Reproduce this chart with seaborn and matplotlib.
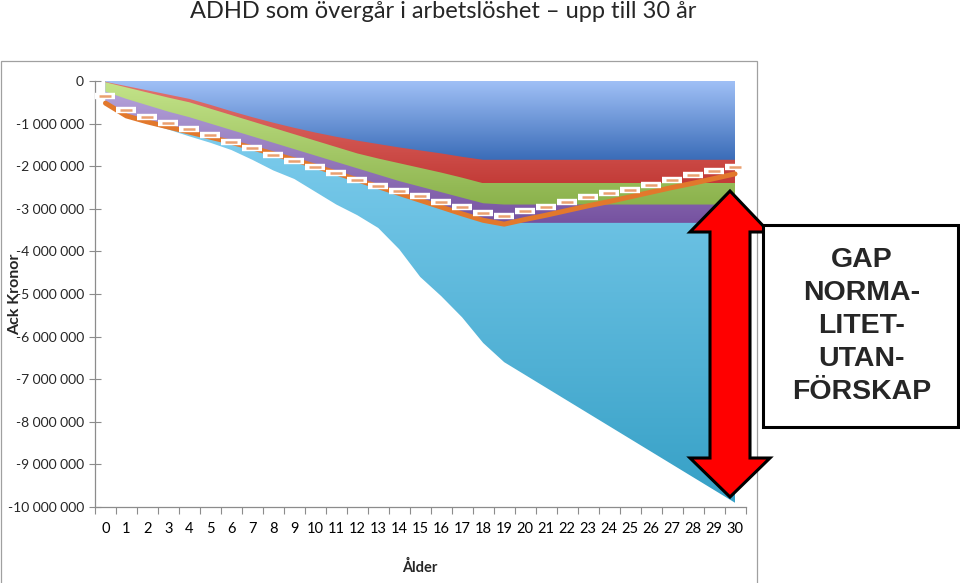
import numpy as np
import matplotlib
matplotlib.use("Agg")
import matplotlib.pyplot as plt
import matplotlib.colors as mcolors
from matplotlib.patches import Polygon, Rectangle
from matplotlib.ticker import FuncFormatter
import seaborn as sns

# ── data (Ack Kronor, miljoner) ───────────────────────────────────────────────
ages = list(range(0, 31))

blue = [-0.02, -0.12, -0.22, -0.32, -0.42, -0.56, -0.71, -0.85, -0.98, -1.10,
        -1.21, -1.31, -1.40, -1.48, -1.56, -1.63, -1.70, -1.78, -1.85, -1.85,
        -1.85, -1.85, -1.85, -1.85, -1.85, -1.85, -1.85, -1.85, -1.85, -1.85, -1.85]
red = [-0.03, -0.15, -0.27, -0.39, -0.50, -0.65, -0.80, -0.95, -1.10, -1.25,
       -1.40, -1.55, -1.70, -1.82, -1.93, -2.04, -2.15, -2.27, -2.40, -2.40,
       -2.40, -2.40, -2.40, -2.40, -2.40, -2.40, -2.40, -2.40, -2.40, -2.40, -2.40]
green = [-0.25, -0.42, -0.57, -0.72, -0.85, -1.00, -1.15, -1.30, -1.45, -1.60,
         -1.75, -1.90, -2.05, -2.20, -2.35, -2.48, -2.61, -2.74, -2.87, -2.90,
         -2.90, -2.90, -2.90, -2.90, -2.90, -2.90, -2.90, -2.90, -2.90, -2.90, -2.90]
purple = [-0.52, -0.82, -0.96, -1.08, -1.20, -1.32, -1.44, -1.57, -1.71, -1.85,
          -2.00, -2.16, -2.32, -2.48, -2.64, -2.80, -2.96, -3.12, -3.27, -3.33,
          -3.33, -3.33, -3.33, -3.33, -3.33, -3.33, -3.33, -3.33, -3.33, -3.33, -3.33]
lightblue = [-0.55, -0.85, -1.00, -1.14, -1.30, -1.45, -1.62, -1.85, -2.10, -2.30,
             -2.60, -2.90, -3.15, -3.45, -3.95, -4.60, -5.05, -5.55, -6.15, -6.60,
             -6.90, -7.20, -7.50, -7.80, -8.10, -8.40, -8.70, -9.00, -9.30, -9.60, -9.90]
orange = [-0.52, -0.82, -0.96, -1.08, -1.20, -1.32, -1.44, -1.57, -1.71, -1.85,
          -2.00, -2.16, -2.32, -2.48, -2.64, -2.80, -2.96, -3.12, -3.27, -3.36,
          -3.25, -3.15, -3.04, -2.93, -2.83, -2.72, -2.61, -2.50, -2.40, -2.29, -2.18]
dashes = [-0.36, -0.67, -0.85, -0.99, -1.13, -1.27, -1.43, -1.57, -1.73, -1.87,
          -2.03, -2.17, -2.33, -2.47, -2.58, -2.70, -2.84, -2.96, -3.10, -3.17,
          -3.05, -2.96, -2.84, -2.72, -2.63, -2.56, -2.44, -2.32, -2.20, -2.11, -2.02]

# area series in drawing order (back to front): values, top colour, bottom colour
areas = [
    (lightblue, "#86d2f2", "#36a0c6"),
    (purple, "#b8a8de", "#7652a0"),
    (green, "#c4e48a", "#8bb24c"),
    (red, "#e47470", "#c33c38"),
    (blue, "#a0c0f6", "#3a6cb8"),
]

yticks = [-10, -9, -8, -7, -6, -5, -4, -3, -2, -1, 0]

# ── plot ─────────────────────────────────────────────────────────────────────
sns.set_theme(style="white")
plt.rcParams["font.family"] = ["Lato", "DejaVu Sans"]

W, H = 960, 583
fig = plt.figure(figsize=(W / 100, H / 100), dpi=100)
ax = fig.add_axes([95 / W, 1 - 507 / H, 650.5 / W, 426 / H])

x = np.array(ages, dtype=float)
for vals, c_top, c_bot in areas:
    y = np.array(vals) * 1e6
    poly = ax.fill_between(x, 0, y, color="none", linewidth=0)
    cmap = mcolors.LinearSegmentedColormap.from_list("g", [c_top, c_bot])
    grad = np.linspace(0, 1, 256).reshape(-1, 1)
    im = ax.imshow(grad, cmap=cmap, aspect="auto", origin="upper",
                   extent=[x.min(), x.max(), y.min(), 0], interpolation="bilinear", zorder=2)
    im.set_clip_path(poly.get_paths()[0], transform=ax.transData)

sns.lineplot(x=ages, y=np.array(orange) * 1e6, color="#e2782c", linewidth=3.6,
             ax=ax, zorder=4, solid_capstyle="round")
ax.plot(ages, np.array(dashes) * 1e6, linestyle="", marker="_", markersize=14.5,
        markeredgewidth=4.6, color="white", zorder=5)
ax.plot(ages, np.array(dashes) * 1e6, linestyle="", marker="_", markersize=8,
        markeredgewidth=1.8, color="#eaa070", zorder=6)

ax.set_xlim(-0.5, 30.5)
ax.set_ylim(-10e6, 0)
ax.set_yticks([v * 1e6 for v in yticks])
ax.yaxis.set_major_formatter(FuncFormatter(lambda v, p: f"{int(round(v)):,}".replace(",", " ")))
ax.set_xticks(ages)
ax.set_xticks(np.arange(-0.5, 31, 1), minor=True)
ax.tick_params(axis="x", which="major", length=0, pad=11, labelsize=10.5, colors="black")
ax.tick_params(axis="x", which="minor", length=5, width=0.8, color="#8c8c8c", direction="out", bottom=True)
ax.tick_params(axis="y", length=8, width=0.8, color="#8c8c8c", direction="inout", pad=4,
               labelsize=10, left=True)

for side in ["top", "right"]:
    ax.spines[side].set_visible(False)
for side in ["left", "bottom"]:
    ax.spines[side].set_color("#8c8c8c")
    ax.spines[side].set_linewidth(0.9)

ax.set_ylabel("Ack Kronor", fontsize=11.5, fontweight="bold")
ax.yaxis.set_label_coords(-0.112, 0.5)
ax.set_xlabel("Ålder", fontsize=10.5, fontweight="bold")
ax.xaxis.set_label_coords(0.4996, -0.124)

# chart frame
fig.add_artist(Rectangle((1 / W, -0.1), 756 / W, 1 - 61 / H + 0.1, transform=fig.transFigure,
                         fill=False, edgecolor="#a0a0a0", linewidth=0.9))

fig.text(443 / W, 1 - 12 / H, "ADHD som övergår i arbetslöshet – upp till 30 år",
         ha="center", va="center", fontsize=17)

# double-headed block arrow
cx, ht, hb, yt, yb = 730, 232, 458, 191, 497
pts = [(cx, yt), (cx + 39, ht), (cx + 20, ht), (cx + 20, hb), (cx + 40, hb), (cx, yb),
       (cx - 40, hb), (cx - 20, hb), (cx - 20, ht), (cx - 40, ht)]
fig.add_artist(Polygon([(px / W, 1 - py / H) for px, py in pts], closed=True,
                       transform=fig.transFigure, facecolor="#ff0000", edgecolor="black",
                       linewidth=2.2, joinstyle="miter"))

# text box
fig.add_artist(Rectangle((763 / W, 1 - 427 / H), 195 / W, 202 / H, transform=fig.transFigure,
                         facecolor="white", edgecolor="black", linewidth=2.2))
fig.text(862 / W, 1 - 326 / H, "GAP\nNORMA-\nLITET-\nUTAN-\nFÖRSKAP", ha="center", va="center",
         fontsize=20.5, fontweight="bold", linespacing=1.36, family=["Liberation Sans", "DejaVu Sans"])

fig.savefig("out.png", dpi=100)
